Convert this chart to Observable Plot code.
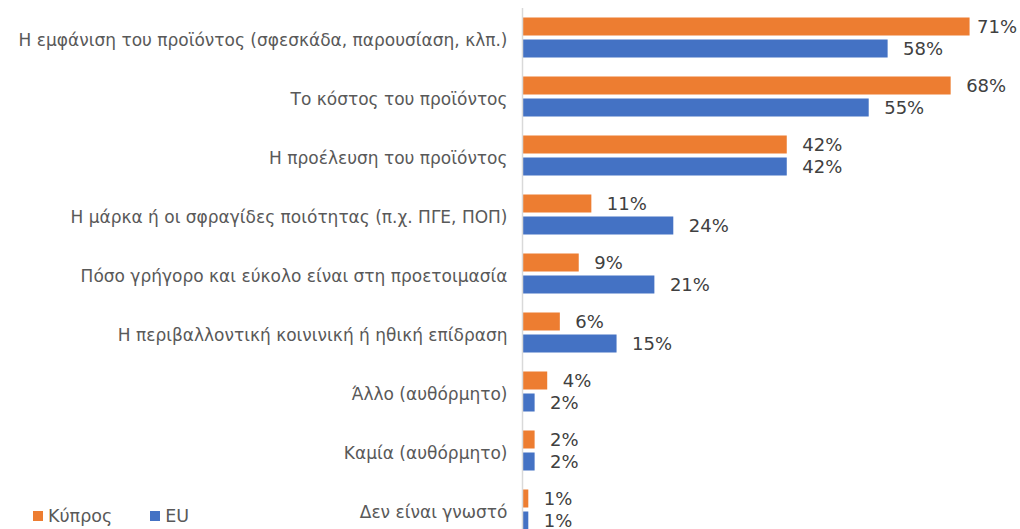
<!DOCTYPE html>
<html>
<head>
<meta charset="utf-8">
<script src="https://cdn.jsdelivr.net/npm/d3@7"></script>
<script src="https://cdn.jsdelivr.net/npm/@observablehq/plot@0.6"></script>
<style>
  html, body { margin: 0; padding: 0; background: #fff; overflow: hidden; }
  #wrap { position: relative; width: 1020px; height: 529px; overflow: hidden; }
  #legend { position: absolute; left: 33px; top: 506px; font-family: "DejaVu Sans", sans-serif; font-size: 17.5px; color: #595959; display: flex; align-items: center; }
  #legend .item { display: inline-flex; align-items: center; margin-right: 38px; }
  #legend .sw { width: 10px; height: 10px; display: inline-block; margin-right: 5px; }
</style>
</head>
<body>
<div id="wrap"><div id="chart"></div><div id="legend"></div></div>
<script>
const categories = [
  "Η εμφάνιση του προϊόντος (σφεσκάδα, παρουσίαση, κλπ.)",
  "Το κόστος του προϊόντος",
  "Η προέλευση του προϊόντος",
  "Η μάρκα ή οι σφραγίδες ποιότητας (π.χ. ΠΓΕ, ΠΟΠ)",
  "Πόσο γρήγορο και εύκολο είναι στη προετοιμασία",
  "Η περιβαλλοντική κοινινική ή ηθική επίδραση",
  "Άλλο (αυθόρμητο)",
  "Καμία (αυθόρμητο)",
  "Δεν είναι γνωστό"
];
const series = ["Κύπρος", "EU"];
const cyprus = [71, 68, 42, 11, 9, 6, 4, 2, 1];
const eu = [58, 55, 42, 24, 21, 15, 2, 2, 1];
const colors = ["#ED7D31", "#4472C4"];

const data = [];
categories.forEach((c, i) => {
  data.push({category: c, series: series[0], value: cyprus[i]});
  data.push({category: c, series: series[1], value: eu[i]});
});

const chart = Plot.plot({
  width: 1020,
  height: 540,
  marginLeft: 522,
  marginRight: 0,
  marginTop: 6.5,
  marginBottom: 0,
  style: {fontFamily: "DejaVu Sans, sans-serif", fontSize: "17px", color: "#595959", background: "#fff"},
  x: {domain: [0, 79], axis: null},
  y: {domain: series, axis: null, paddingInner: 0.18, paddingOuter: 0.42},
  fy: {domain: categories, padding: 0},
  color: {domain: series, range: colors},
  marks: [
    Plot.axisFy({anchor: "left", tickSize: 0, tickPadding: 15, label: null, fill: "#595959", dy: 3}),
    Plot.barX(data, {x: "value", y: "series", fy: "category", fill: "series", insetLeft: 1}),
    Plot.text(data.filter(d => d.value <= 70), {x: "value", y: "series", fy: "category", text: d => d.value + "%", textAnchor: "start", dx: 15, fontSize: 18, fill: "#404040"}),
    Plot.text(data.filter(d => d.value > 70), {x: "value", y: "series", fy: "category", text: d => d.value + "%", textAnchor: "start", dx: 7, fontSize: 18, fill: "#404040"}),
    Plot.ruleX([0], {stroke: "#d9d9d9", strokeWidth: 1.5})
  ]
});
document.getElementById("chart").appendChild(chart);

const legend = document.getElementById("legend");
series.forEach((s, i) => {
  const item = document.createElement("span");
  item.className = "item";
  const sw = document.createElement("span");
  sw.className = "sw";
  sw.style.background = colors[i];
  item.appendChild(sw);
  item.appendChild(document.createTextNode(s));
  legend.appendChild(item);
});
</script>
</body>
</html>
